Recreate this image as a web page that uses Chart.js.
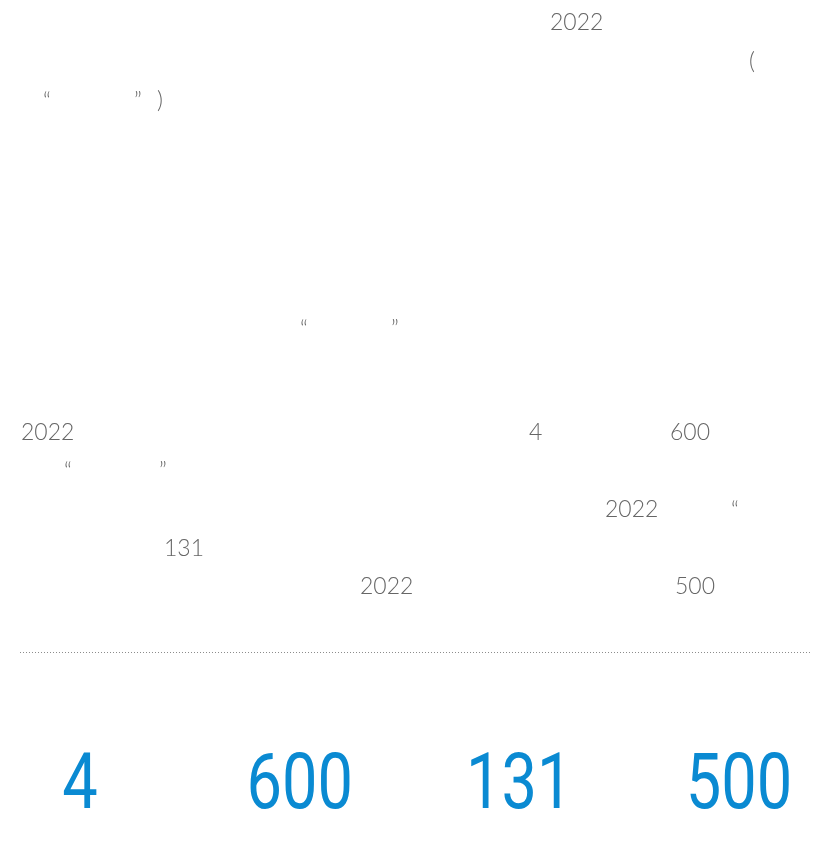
<!DOCTYPE html>
<html>
<head>
<meta charset="utf-8">
<script src="https://cdn.jsdelivr.net/npm/chart.js@4.4.1/dist/chart.umd.min.js"></script>
<style>
html,body{margin:0;padding:0;background:#fff;}
canvas{display:block;}
</style>
</head>
<body>
<canvas id="c" width="813" height="864"></canvas>
<script>
// Data: headline figures shown along the bottom
const categories = ["a", "b", "c", "d"];
const values = [4, 600, 131, 500];
const valueLabels = ["4", "600", "131", "500"];

// Body text fragments visible in the reference (glyph runs)
const textRuns = [
  ["2022", 550, 30],
  ["(", 749, 68.5],
  ["\u201C", 43, 109],
  ["\u201D", 134, 109],
  [")", 157, 108],
  ["\u201C", 300, 337],
  ["\u201D", 391, 337],
  ["2022", 21, 440],
  ["4", 529, 440],
  ["600", 670, 440],
  ["\u201C", 64, 479],
  ["\u201D", 159, 479],
  ["2022", 605, 517],
  ["\u201C", 731, 518],
  ["131", 164, 556],
  ["2022", 360, 594],
  ["500", 675, 594]
];

const overlay = {
  id: 'overlay',
  afterDraw(chart) {
    const ctx = chart.ctx;
    ctx.save();
    // body text
    ctx.fillStyle = '#666666';
    ctx.font = '300 23px Lato, "Noto Sans", sans-serif';
    ctx.textAlign = 'left';
    ctx.textBaseline = 'alphabetic';
    textRuns.forEach(([t, x, y]) => ctx.fillText(t, x, y));
    // dotted separator
    ctx.strokeStyle = '#8c8c8c';
    ctx.lineWidth = 1;
    ctx.setLineDash([1, 2]);
    ctx.beginPath();
    ctx.moveTo(20, 652.5);
    ctx.lineTo(811, 652.5);
    ctx.stroke();
    ctx.setLineDash([]);
    // headline numbers at category positions
    const meta = chart.getDatasetMeta(0);
    ctx.fillStyle = '#0a8ad2';
    ctx.font = '400 77px Roboto, "Noto Sans", sans-serif';
    ctx.textAlign = 'center';
    meta.data.forEach((el, i) => {
      ctx.save();
      ctx.translate(el.x, 808);
      ctx.scale(0.82, 1);
      ctx.fillText(valueLabels[i], 0, 0);
      ctx.restore();
    });
    ctx.restore();
  }
};

new Chart(document.getElementById('c'), {
  type: 'bar',
  data: {
    labels: categories,
    datasets: [{
      data: values,
      backgroundColor: 'rgba(0,0,0,0)',
      borderWidth: 0
    }]
  },
  options: {
    responsive: false,
    animation: false,
    layout: { padding: { left: 80, right: 74, top: 0, bottom: 0 } },
    plugins: { legend: { display: false }, tooltip: { enabled: false }, title: { display: false } },
    scales: {
      x: { display: false, offset: false },
      y: { display: false, min: 0, max: 700 }
    }
  },
  plugins: [overlay]
});
</script>
</body>
</html>
